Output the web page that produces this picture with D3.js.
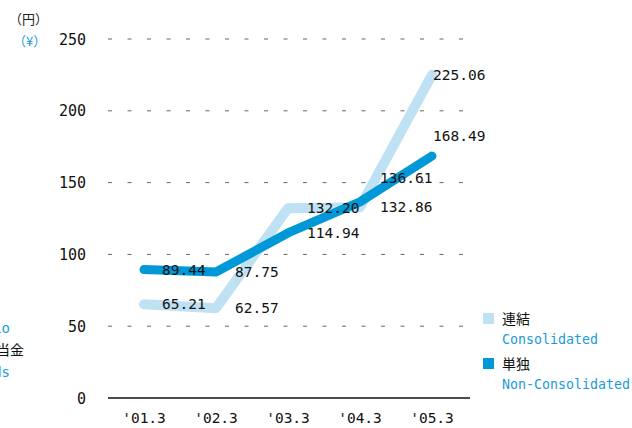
<!DOCTYPE html>
<html>
<head>
<meta charset="utf-8">
<script src="https://cdn.jsdelivr.net/npm/d3@7"></script>
<style>
  html, body { margin: 0; padding: 0; background: #fff; }
  svg { display: block; }
</style>
</head>
<body>
<svg id="chart" width="632" height="428"></svg>
<script>
// Fiscal years (March year-end)
const categories = ["'01.3", "'02.3", "'03.3", "'04.3", "'05.3"];
// Yen per share
const consolidated = [65.21, 62.57, 132.20, 132.86, 225.06];
const nonConsolidated = [89.44, 87.75, 114.94, 136.61, 168.49];
const yTicks = [0, 50, 100, 150, 200, 250];

const NUM_FONT = "'DejaVu Sans Mono', 'Liberation Mono', monospace";
const CJK_FONT = "'Noto Sans CJK JP', sans-serif";
const BLUE_TEXT = "#1a9ad8";
const LIGHT = "#bfe1f4";
const DARK = "#0098d7";

const svg = d3.select("#chart");

const x = d3.scalePoint().domain(categories).range([144, 432]);
const y = d3.scaleLinear().domain([0, 250]).range([398, 39]);

// dashed horizontal grid
svg.append("g")
  .selectAll("line")
  .data(yTicks.filter(d => d > 0))
  .join("line")
  .attr("x1", 108).attr("x2", 470)
  .attr("y1", d => y(d)).attr("y2", d => y(d))
  .attr("stroke", "#666").attr("stroke-width", 1)
  .attr("stroke-dasharray", "4 15.5");

// baseline axis
svg.append("line")
  .attr("x1", 108).attr("x2", 470)
  .attr("y1", y(0)).attr("y2", y(0))
  .attr("stroke", "#111").attr("stroke-width", 1.3);

// y tick labels
svg.append("g")
  .selectAll("text")
  .data(yTicks)
  .join("text")
  .attr("x", 86).attr("y", d => y(d) + 5.5)
  .attr("text-anchor", "end")
  .attr("font-family", NUM_FONT).attr("font-size", 15)
  .attr("fill", "#111")
  .text(d => d);

// x labels
svg.append("g")
  .selectAll("text")
  .data(categories)
  .join("text")
  .attr("x", d => x(d)).attr("y", 423)
  .attr("text-anchor", "middle")
  .attr("font-family", NUM_FONT).attr("font-size", 14.5)
  .attr("fill", "#111")
  .text(d => d);

// unit labels
svg.append("text").attr("x", 9).attr("y", 24)
  .attr("font-family", CJK_FONT).attr("font-size", 13).attr("fill", "#222")
  .text("（円）");
svg.append("text").attr("x", 13).attr("y", 46)
  .attr("font-family", CJK_FONT).attr("font-size", 13).attr("fill", BLUE_TEXT)
  .text("（¥）");

// lines
const line = d3.line()
  .x((d, i) => x(categories[i]))
  .y(d => y(d));

svg.append("path")
  .datum(consolidated)
  .attr("d", line)
  .attr("fill", "none").attr("stroke", LIGHT)
  .attr("stroke-width", 10).attr("stroke-linecap", "round").attr("stroke-linejoin", "round");

svg.append("path")
  .datum(nonConsolidated)
  .attr("d", line)
  .attr("fill", "none").attr("stroke", DARK)
  .attr("stroke-width", 9).attr("stroke-linecap", "round").attr("stroke-linejoin", "round");

// value labels: right of each point, vertically centred unless nudged
const labelDx = [18, 19, 19, 20, 1];
const consolidatedDy = [0, 0, 0, 0, 0];
const nonConsolidatedDy = [0, 0, 0, -24, -20];

function valueLabels(values, dys) {
  svg.append("g")
    .selectAll("text")
    .data(values)
    .join("text")
    .attr("x", (d, i) => x(categories[i]) + labelDx[i])
    .attr("y", (d, i) => y(d) + 5 + dys[i])
    .attr("font-family", NUM_FONT).attr("font-size", 14.5)
    .attr("fill", "#111")
    .text(d => d.toFixed(2));
}
valueLabels(consolidated, consolidatedDy);
valueLabels(nonConsolidated, nonConsolidatedDy);

// legend
const legend = [
  { jp: "連結", en: "Consolidated", color: LIGHT, top: 313 },
  { jp: "単独", en: "Non-Consolidated", color: DARK, top: 358 }
];
const lg = svg.append("g");
legend.forEach(l => {
  lg.append("rect").attr("x", 483).attr("y", l.top).attr("width", 11).attr("height", 11).attr("fill", l.color);
  lg.append("text").attr("x", 502).attr("y", l.top + 11)
    .attr("font-family", CJK_FONT).attr("font-size", 14).attr("fill", "#111")
    .text(l.jp);
  lg.append("text").attr("x", 502).attr("y", l.top + 31)
    .attr("font-family", NUM_FONT).attr("font-size", 13.3).attr("fill", BLUE_TEXT)
    .text(l.en);
});

// neighbouring panel title, partly off the left edge
svg.append("text").attr("x", 10).attr("y", 333).attr("text-anchor", "end")
  .attr("font-family", NUM_FONT).attr("font-size", 14).attr("fill", BLUE_TEXT)
  .text("Payout Ratio");
svg.append("text").attr("x", 24).attr("y", 355).attr("text-anchor", "end")
  .attr("font-family", CJK_FONT).attr("font-size", 14).attr("fill", "#111")
  .text("1株当たり配当金");
svg.append("text").attr("x", 10).attr("y", 377).attr("text-anchor", "end")
  .attr("font-family", NUM_FONT).attr("font-size", 14).attr("fill", BLUE_TEXT)
  .text("Dividends");
</script>
</body>
</html>
